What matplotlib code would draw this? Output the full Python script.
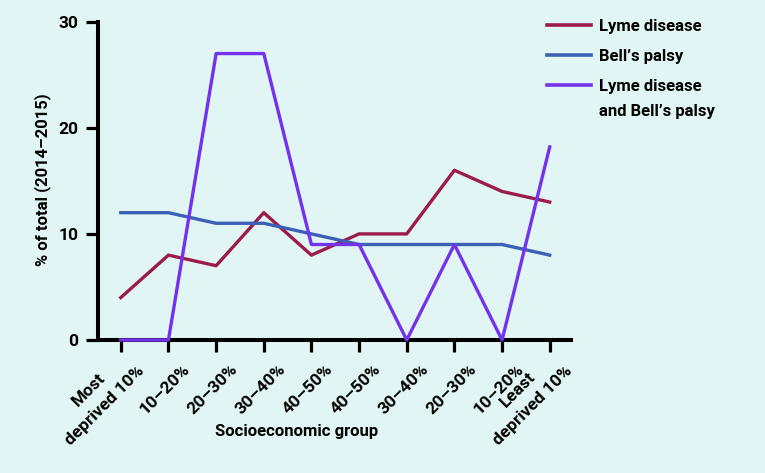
import numpy as np
import matplotlib.pyplot as plt
import matplotlib.transforms as mtransforms
from matplotlib.lines import Line2D

# Values
groups = ['Most\ndeprived 10%', '10–20%', '20–30%', '30–40%', '40–50%',
          '40–50%', '30–40%', '20–30%', '10–20%', 'Least\ndeprived 10%']
lyme = [4, 8, 7, 12, 8, 10, 10, 16, 14, 13]
bells = [12, 12, 11, 11, 10, 9, 9, 9, 9, 8]
both = [0, 0, 27, 27, 9, 9, 0, 9, 0, 18.2]

series_names = ['Lyme disease', 'Bell’s palsy', 'Lyme disease\nand Bell’s palsy']
series_colors = ['#9c1b4b', '#3b60b6', '#7431ee']

BG = '#e1f6f4'
plt.rcParams['font.family'] = ['Roboto', 'DejaVu Sans']
plt.rcParams['font.weight'] = 'bold'

fig = plt.figure(figsize=(7.65, 4.73), dpi=100, facecolor=BG)
ax = fig.add_axes([0.128, 0.2812, 0.618, 0.6729], facecolor=BG)

x = np.arange(len(groups))
for vals, name, col in zip([lyme, bells, both], series_names, series_colors):
    ax.plot(x, vals, color=col, lw=2.4, zorder=3, clip_on=False)

ax.set_xlim(-0.48, 9.44)
ax.set_ylim(0, 30)
ax.set_yticks([0, 10, 20, 30])
ax.set_xticks(x)
ax.set_xticklabels(groups, rotation=45, ha='right', va='top',
                   rotation_mode='anchor', fontsize=12.5,
                   linespacing=1.6, multialignment='center')
ax.tick_params(axis='both', width=2.3, length=8.6, labelsize=12.5, color='black')
ax.tick_params(axis='y', pad=5.5)
ax.tick_params(axis='x', pad=0)

# shift the rotated labels like the original layout
for lab in ax.get_xticklabels():
    if '\n' in lab.get_text():
        off = mtransforms.ScaledTranslation(-0.3 / 72, 3.3 / 72, fig.dpi_scale_trans)
    else:
        off = mtransforms.ScaledTranslation(10 / 72, -7 / 72, fig.dpi_scale_trans)
    lab.set_transform(lab.get_transform() + off)

for s in ['top', 'right']:
    ax.spines[s].set_visible(False)
for s in ['left', 'bottom']:
    ax.spines[s].set_linewidth(2.9)

ax.set_xlabel('Socioeconomic group', fontsize=12, fontweight='bold')
ax.xaxis.set_label_coords(0.421, -0.264)
ax.set_ylabel('% of total (2014–2015)', fontsize=12, fontweight='bold')
ax.yaxis.set_label_coords(-0.099, 0.503)

# legend
W, H = 765, 473
for i, (name, col) in enumerate(zip(series_names, series_colors)):
    yc = 25 + 30 * i
    fig.add_artist(Line2D([547 / W, 591 / W], [1 - yc / H, 1 - yc / H],
                          color=col, lw=2.6, transform=fig.transFigure))
    fig.text(599 / W, 1 - (yc - 6) / H, name, fontsize=12, fontweight='bold',
             va='top', ha='left', linespacing=1.85)

fig.savefig('out.png', dpi=100, facecolor=BG)
